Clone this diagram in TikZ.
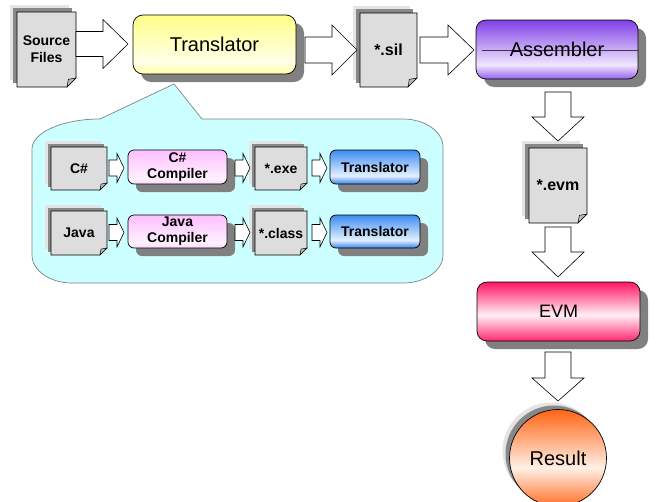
\documentclass[tikz,border=0pt]{standalone}
\usepackage{fontspec}
\setmainfont{Liberation Sans}
\usetikzlibrary{calc,shadows}

\definecolor{callfill}{RGB}{204,255,255}
\definecolor{callline}{RGB}{128,128,128}
\definecolor{docfill}{RGB}{221,221,221}
\definecolor{docflapc}{RGB}{185,185,185}
\definecolor{docshD}{RGB}{136,136,136}
\definecolor{docshL}{RGB}{228,228,228}
\definecolor{boxsh}{RGB}{128,128,128}
\definecolor{yelT}{RGB}{255,255,135}
\definecolor{yelM}{RGB}{255,255,232}
\definecolor{yelB}{RGB}{255,255,165}
\definecolor{purT}{RGB}{128,64,230}
\definecolor{purM}{RGB}{240,230,255}
\definecolor{purB}{RGB}{150,95,240}
\definecolor{evmT}{RGB}{255,20,100}
\definecolor{evmM}{RGB}{255,240,245}
\definecolor{evmB}{RGB}{255,40,110}
\definecolor{bluT}{RGB}{60,140,240}
\definecolor{bluM}{RGB}{228,240,255}
\definecolor{bluB}{RGB}{50,130,235}
\definecolor{cmpT}{RGB}{255,190,255}
\definecolor{cmpM}{RGB}{255,242,255}
\definecolor{cmpB}{RGB}{255,215,255}
\definecolor{orT}{RGB}{255,100,20}
\definecolor{orM}{RGB}{255,240,230}
\definecolor{orB}{RGB}{255,110,40}
\definecolor{midline}{RGB}{60,60,60}

\pgfdeclareverticalshading{shyel}{100bp}{color(0bp)=(yelB); color(25bp)=(yelB); color(35bp)=(yelM); color(75bp)=(yelT); color(100bp)=(yelT)}
\pgfdeclareverticalshading{shpur}{100bp}{color(0bp)=(purB); color(25bp)=(purB); color(37bp)=(purM); color(75bp)=(purT); color(100bp)=(purT)}
\pgfdeclareverticalshading{shevm}{100bp}{color(0bp)=(evmB); color(25bp)=(evmB); color(47bp)=(evmM); color(75bp)=(evmT); color(100bp)=(evmT)}
\pgfdeclareverticalshading{shblu}{100bp}{color(0bp)=(bluB); color(25bp)=(bluB); color(37bp)=(bluM); color(75bp)=(bluT); color(100bp)=(bluT)}
\pgfdeclareverticalshading{shcmp}{100bp}{color(0bp)=(cmpB); color(25bp)=(cmpB); color(33bp)=(cmpM); color(75bp)=(cmpT); color(100bp)=(cmpT)}
\pgfdeclareverticalshading{shor}{100bp}{color(0bp)=(orB); color(25bp)=(orB); color(45bp)=(orM); color(75bp)=(orT); color(100bp)=(orT)}

\tikzset{
  boxbase/.style={draw=black, line width=0.7pt, inner sep=0pt, align=center},
  bigbox/.style={boxbase, rounded corners=10pt,
    drop shadow={shadow xshift=8pt, shadow yshift=-8pt, fill=boxsh, opacity=1},
    font=\fontsize{20}{24}\selectfont},
  smallbox/.style={boxbase, rounded corners=6pt,
    drop shadow={shadow xshift=8pt, shadow yshift=-8pt, fill=boxsh, opacity=1},
    font=\fontsize{14}{16}\selectfont\bfseries},
  docpage/.style={draw=black, line width=0.6pt, fill=docfill},
  docflap/.style={draw=black, line width=0.5pt, fill=docflapc},
  doctext/.style={inner sep=0pt, align=center},
  callout/.style={draw=callline, line width=0.7pt, fill=callfill},
  blockR/.style args={#1/#2/#3}{draw=black, fill=white, line width=0.6pt,
    to path={let \p1=(\tikztostart), \p2=(\tikztotarget) in
      (\x1,{\y1+#1pt}) -- ({\x2-#3pt},{\y1+#1pt}) -- ({\x2-#3pt},{\y1+#2pt}) -- (\x2,\y1)
      -- ({\x2-#3pt},{\y1-#2pt}) -- ({\x2-#3pt},{\y1-#1pt}) -- (\x1,{\y1-#1pt}) -- cycle}},
  blockD/.style args={#1/#2/#3}{draw=black, fill=white, line width=0.6pt,
    to path={let \p1=(\tikztostart), \p2=(\tikztotarget) in
      ({\x1-#1pt},\y1) -- ({\x1+#1pt},\y1) -- ({\x1+#1pt},{\y2+#3pt}) -- ({\x1+#2pt},{\y2+#3pt})
      -- (\x1,\y2) -- ({\x1-#2pt},{\y2+#3pt}) -- ({\x1-#1pt},{\y2+#3pt}) -- cycle}},
}

% #1 name, #2 x0, #3 y0, #4 x1, #5 y1, #6 fold, #7 shadow offset, #8 font size, #9 text
\newcommand\mydoc[9]{%
  \fill[docshL] ({#2-#7-3},{#3-#7-3}) rectangle ({#4-#7-3},{#5-#7-3});
  \fill[docshD] ({#2-#7},{#3-#7}) rectangle ({#4-#7},{#5-#7});
  \draw[docpage] (#2,#3) -- (#4,#3) -- (#4,{#5-#6}) -- ({#4-#6},#5) -- (#2,#5) -- cycle;
  \draw[docflap] ({#4-#6},#5) -- (#4,{#5-#6}) -- ({#4-0.85*#6},{#5-0.85*#6}) -- cycle;
  \node[doctext, minimum width={(#4-#2)*1pt}, minimum height={(#5-#3)*1pt},
        font=\fontsize{#8}{17}\selectfont\bfseries]
        (#1) at ({(#2+#4)/2},{(#3+#5)/2}) {#9};
}

\begin{document}
\begin{tikzpicture}[x=1pt,y=-1pt]
\useasboundingbox (0,0) rectangle (656,501);
\clip (0,0) rectangle (656,501);

% callout
\draw[callout] (100,119) -- (174,84) -- (202,119) -- (403,119)
  .. controls (425,119) and (443,131.5) .. (443,147) -- (443,255)
  .. controls (443,270.5) and (425,283) .. (403,283) -- (72,283)
  .. controls (50,283) and (32,270.5) .. (32,255) -- (32,149)
  .. controls (32,132.4) and (62.5,119) .. (100,119) -- cycle;

% top row
\mydoc{src}{17}{12}{76}{87}{9}{4}{14}{Source\\Files}
\node[bigbox, shading=shyel, minimum width=163pt, minimum height=59pt] (trans) at (214.5,44.5) {Translator};
\mydoc{sil}{360}{13}{417}{87}{9}{4}{16}{*.sil}
\node[bigbox, shading=shpur, minimum width=162pt, minimum height=59pt] (asm) at (557,49.5) {};
\coordinate (asmL) at (482,50);
\coordinate (asmR) at (638,50);
\draw[midline, line width=0.6pt] (asmL) -- (asmR);
\node[font=\fontsize{20}{24}\selectfont, inner sep=0pt] (asmtext) at (asm.center) {Assembler};

% right column
\mydoc{evm}{529}{148}{587}{223}{9}{4}{16}{*.evm}
\node[bigbox, shading=shevm, minimum width=163pt, minimum height=59pt, font=\fontsize{18}{22}\selectfont] (evmbox) at (558.5,311.5) {EVM};
\node[circle, draw=black, line width=0.7pt, shading=shor, minimum size=97pt, inner sep=0pt,
      font=\fontsize{20}{24}\selectfont,
      general shadow={shadow xshift=-7pt, shadow yshift=7pt, fill=docshL},
      general shadow={shadow xshift=-4pt, shadow yshift=4pt, fill=docshD}] (result) at (558,458) {Result};

% inner rows
\mydoc{cs}{51}{147}{107}{190}{7}{3}{14}{C\#}
\node[smallbox, shading=shcmp, minimum width=99pt, minimum height=34pt] (csc) at (177.5,167) {C\#\\Compiler};
\mydoc{exe}{255}{147}{307}{190}{7}{3}{14}{*.exe}
\node[smallbox, shading=shblu, minimum width=90pt, minimum height=34pt] (t1) at (375,167) {Translator};

\mydoc{java}{51}{211}{107}{255}{7}{3}{14}{Java}
\node[smallbox, shading=shcmp, minimum width=99pt, minimum height=33pt] (jc) at (177.5,231.5) {Java\\Compiler};
\mydoc{class}{255}{211}{307}{255}{7}{3}{14}{*.class}
\node[smallbox, shading=shblu, minimum width=90pt, minimum height=33pt] (t2) at (375,231.5) {Translator};

% big arrows
\coordinate (a1s) at (76,44);   \coordinate (a1e) at (128,44);
\coordinate (a2s) at (305,50);  \coordinate (a2e) at (357,50);
\coordinate (a3s) at (420,50);  \coordinate (a3e) at (474,50);
\coordinate (d1s) at (558,92);  \coordinate (d1e) at (558,141);
\coordinate (d2s) at (558,227); \coordinate (d2e) at (558,277);
\coordinate (d3s) at (558,352); \coordinate (d3e) at (558,401);
\draw[blockR=12.5/24.5/25] (a1s) to (a1e);
\draw[blockR=13/25/25] (a2s) to (a2e);
\draw[blockR=13/25/26] (a3s) to (a3e);
\draw[blockD=13/26/24] (d1s) to (d1e);
\draw[blockD=13/26/25] (d2s) to (d2e);
\draw[blockD=13/26/23] (d3s) to (d3e);

% small arrows
\coordinate (s1s) at (109,168);   \coordinate (s1e) at (124,168);
\coordinate (s2s) at (235,168);   \coordinate (s2e) at (250,168);
\coordinate (s3s) at (312,168);   \coordinate (s3e) at (327,168);
\coordinate (s4s) at (109,232.5); \coordinate (s4e) at (124,232.5);
\coordinate (s5s) at (235,232.5); \coordinate (s5e) at (250,232.5);
\coordinate (s6s) at (312,232.5); \coordinate (s6e) at (327,232.5);
\foreach \k in {1,...,6}{
  \draw[blockR=8/14.5/7] (s\k s) to (s\k e);
}
\end{tikzpicture}
\end{document}
